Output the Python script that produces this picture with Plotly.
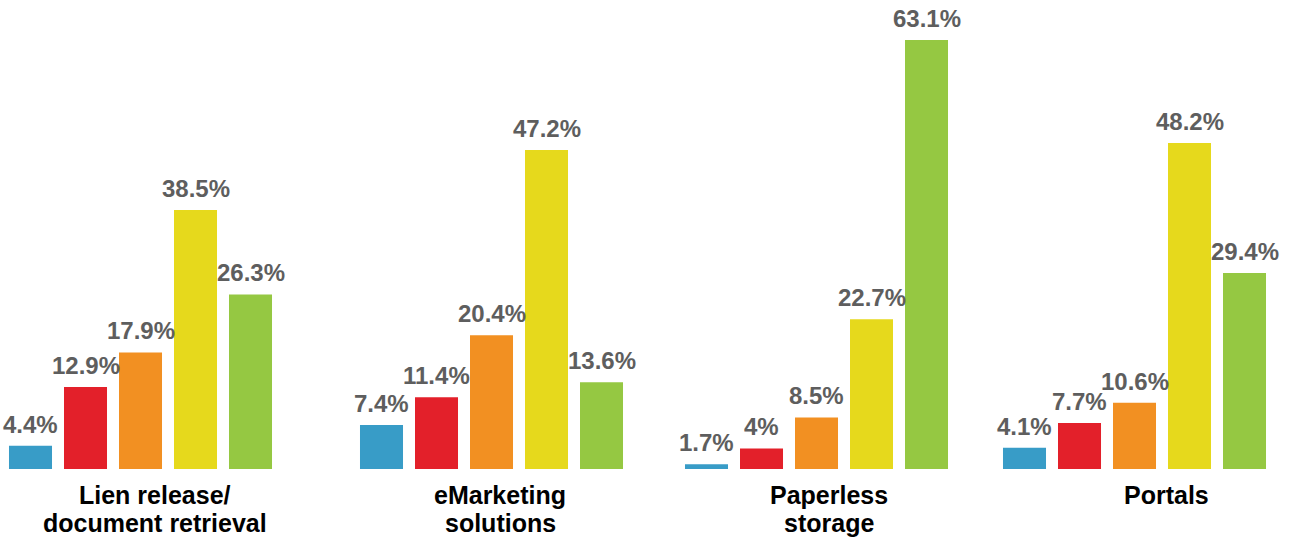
import plotly.graph_objects as go

# Survey results: share of respondents per rating level, for each technology area
categories = ["Lien release/<br>document retrieval", "eMarketing<br>solutions",
              "Paperless<br>storage", "Portals"]
levels = ["L1", "L2", "L3", "L4", "L5"]

level1 = [4.4, 7.4, 1.7, 4.1]
level2 = [12.9, 11.4, 4, 7.7]
level3 = [17.9, 20.4, 8.5, 10.6]
level4 = [38.5, 47.2, 22.7, 48.2]
level5 = [26.3, 13.6, 63.1, 29.4]

series = [level1, level2, level3, level4, level5]
colors = ["#389cc7", "#e3202a", "#f29022", "#e6d91c", "#95c842"]

FONT = "Liberation Sans, Arial, sans-serif"
W, H = 1294, 537
group_centers_px = [140.5, 491.5, 816.5, 1134.5]
group_width_px = 275
label_centers_px = [155, 500, 829, 1166]
label_line_step = 28

fig = go.Figure()
layout_axes = {}
for g, cat in enumerate(categories):
    ax = "x" if g == 0 else f"x{g + 1}"
    vals = [s[g] for s in series]
    fig.add_trace(go.Bar(
        x=levels, y=vals, xaxis=ax, yaxis="y",
        marker=dict(color=colors, line=dict(width=0)),
        hoverinfo="skip",
    ))
    # value labels above each bar (category axis: position = level index)
    for i, v in enumerate(vals):
        fig.add_annotation(
            x=i, y=v, xref=ax, yref="y", text=f"<b>{v}%</b>",
            xanchor="center", yanchor="bottom", yshift=6, showarrow=False,
            font=dict(family=FONT, size=24, color="#5e5e5e"),
        )
    c = group_centers_px[g]
    key = "xaxis" if g == 0 else f"xaxis{g + 1}"
    layout_axes[key] = dict(
        domain=[(c - group_width_px / 2) / W, (c + group_width_px / 2) / W],
        type="category", visible=False, anchor="y", range=[-0.5, 4.5],
    )
    # category name under the group, one annotation per line
    for i, line in enumerate(cat.split("<br>")):
        fig.add_annotation(
            text=f"<b>{line}</b>", xref="paper", yref="paper",
            x=label_centers_px[g] / W, y=0, xanchor="center", yanchor="top",
            yshift=-10 - i * label_line_step,
            showarrow=False, align="center",
            font=dict(family=FONT, size=25, color="#000000"),
        )

fig.update_layout(
    width=W, height=H,
    margin=dict(l=0, r=0, t=0, b=68),
    paper_bgcolor="white", plot_bgcolor="white",
    showlegend=False, bargap=0.218,
    yaxis=dict(range=[1.03, 68.9], visible=False, fixedrange=True),
    **layout_axes,
)

fig.write_html("out.html")
